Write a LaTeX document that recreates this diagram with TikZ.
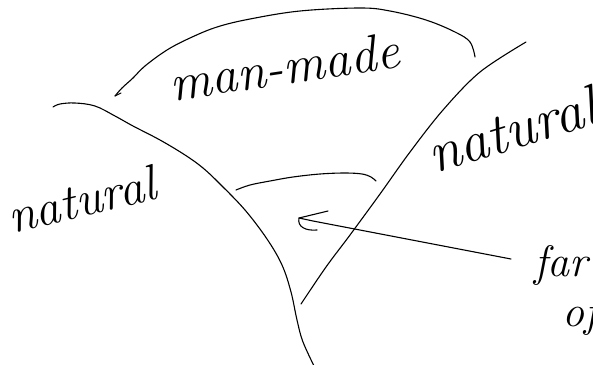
\documentclass[tikz,border=0pt]{standalone}
\begin{document}
\begin{tikzpicture}[x=1pt,y=-1pt,
  stroke/.style={line width=1.1pt,line cap=round,line join=round},
  hand/.style={inner sep=0pt,font=\itshape}]
\useasboundingbox (0,0) rectangle (593,364);
% top arc (man-made)
\coordinate (arcR) at (475,57);
\coordinate (arcL) at (115,96);
\draw[stroke] plot[smooth,tension=0.6] coordinates {(arcR) (470,42) (455,32) (426,20) (390,11) (360,8) (300,11) (250,19) (217,27) (190,38) (167,50) (145,66) (133,78) (122,88) (arcL)};
\draw[stroke] (arcL) -- (121,93);
% big left curve
\coordinate (lcS) at (53,107);
\coordinate (lcE) at (316,370);
\draw[stroke] plot[smooth,tension=0.6] coordinates {(lcS) (60,104) (75,103) (95,106) (115,116) (133,126) (160,140) (185,155) (203,168) (220,184) (245,210) (267,239) (282,265) (291,292) (297,320) (303,342) (lcE)};
% right line
\coordinate (rlS) at (526,42);
\coordinate (rlE) at (301,304);
\draw[stroke] plot[smooth,tension=0.55] coordinates {(rlS) (480,72) (443,110) (410,152) (380,194) (350,235) (326,267) (rlE)};
% inner arc
\coordinate (iaL) at (236,190);
\coordinate (iaR) at (376,181);
\draw[stroke] plot[smooth,tension=0.6] coordinates {(iaL) (250,185) (270,181) (293,177) (320,174) (345,173) (362,174) (371,177) (iaR)};
% arrow
\coordinate (tail) at (511,259);
\coordinate (tip) at (299,218);
\coordinate (barbU) at (328,211);
\coordinate (barbL) at (317,230);
\draw[stroke] (tail) -- (313,221) -- (tip);
\draw[stroke] (barbU) -- (tip) .. controls (297,227) and (306,231) .. (barbL);
% texts
\node[hand,anchor=base,rotate=8.5,font=\itshape\fontsize{52}{52}\selectfont] (manmade) at (287,84) {man-made};
\node[hand,anchor=base west,rotate=17,font=\itshape\fontsize{58}{58}\selectfont] (natR) at (434,174) {natural};
\node[hand,anchor=base west,rotate=13.5,font=\itshape\fontsize{50}{50}\selectfont] (natL) at (12,234) {natural};
\node[hand,anchor=base west,font=\itshape\fontsize{44}{44}\selectfont] (far) at (534,276) {far};
\node[hand,anchor=base west,font=\itshape\fontsize{44}{44}\selectfont] (of) at (562,326) {of};
\end{tikzpicture}
\end{document}
